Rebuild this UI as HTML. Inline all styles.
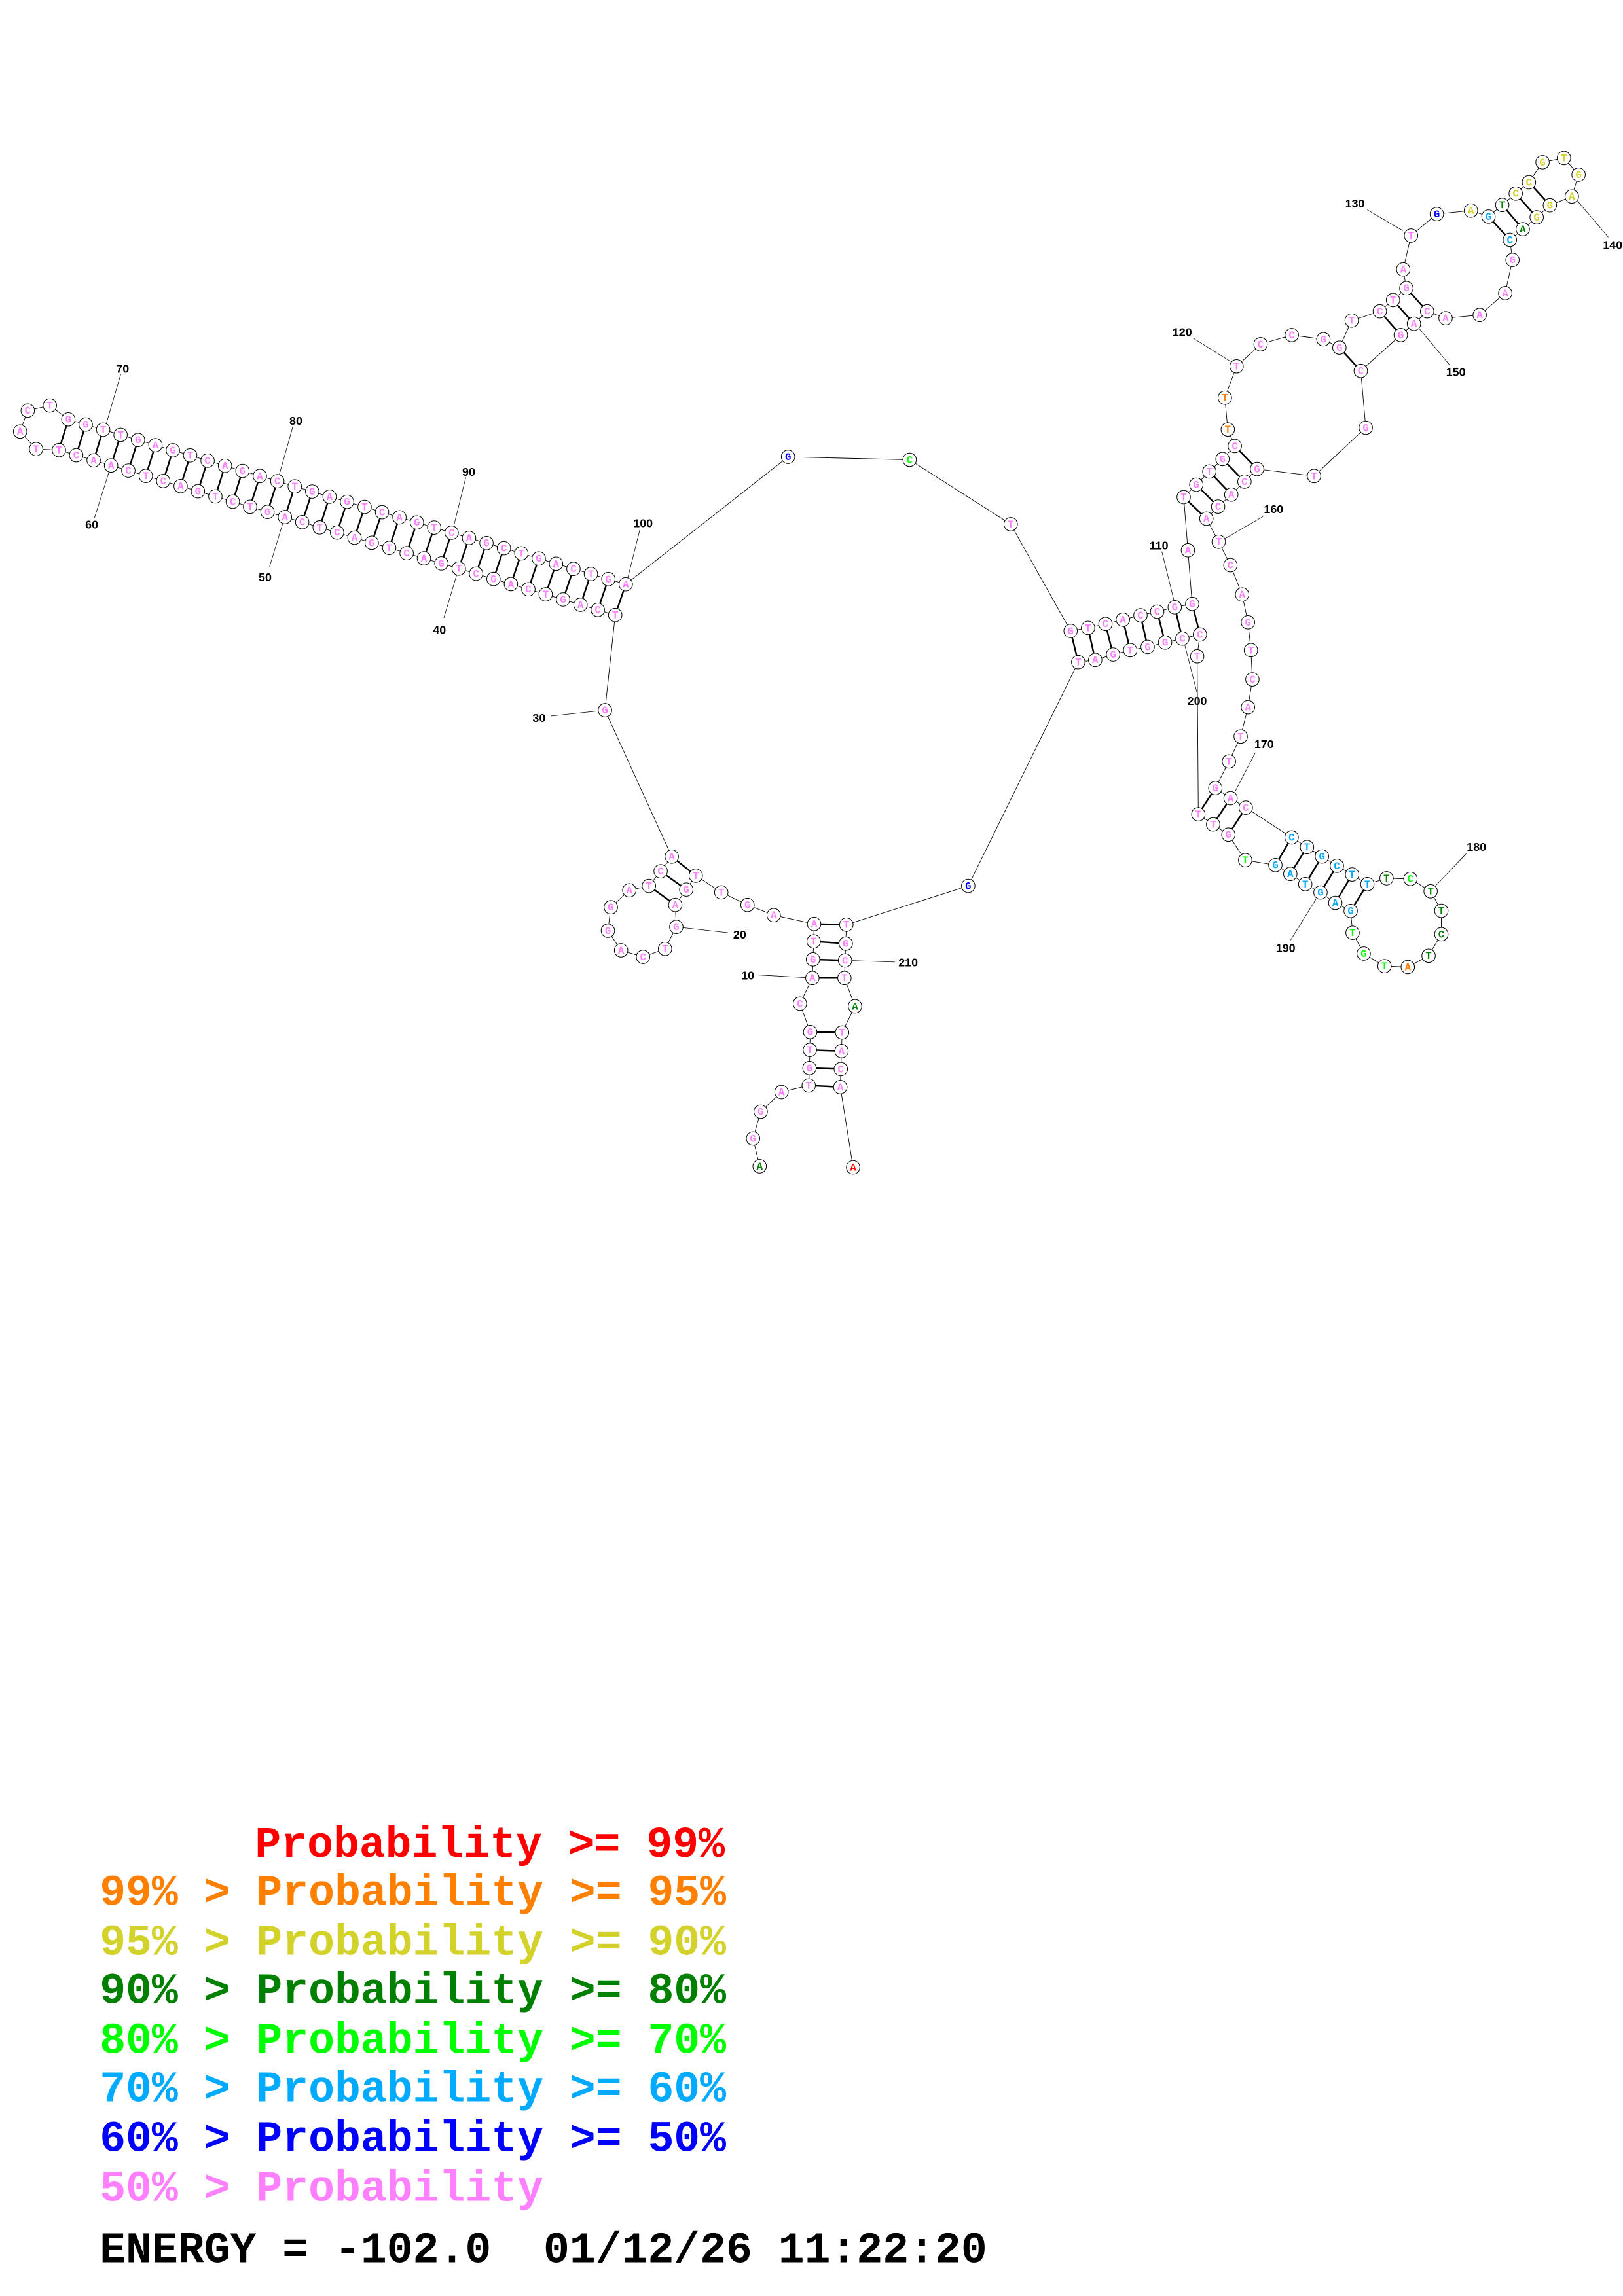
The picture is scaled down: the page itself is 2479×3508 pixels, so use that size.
<!DOCTYPE html>
<html><head><meta charset="utf-8"><style>
html,body{margin:0;padding:0;background:#fff}
svg{display:block}
.bb{fill:none;stroke:#000;stroke-width:0.4}
.pr line{stroke:#000;stroke-width:1.1}
.nd circle{fill:#fff;stroke:#000;stroke-width:0.45}
.nd text{font-family:"Liberation Mono",monospace;font-weight:bold;font-size:7px;text-anchor:middle;fill:#ff80ff}
.nd text.r{fill:#ff0000}.nd text.o{fill:#ff8000}.nd text.y{fill:#d2d22a}.nd text.dg{fill:#008000}.nd text.g{fill:#00ff00}.nd text.lb{fill:#00aaff}.nd text.b{fill:#0000ff}
.lab{font-family:"Liberation Sans",sans-serif;font-weight:bold;font-size:8px;text-anchor:middle;fill:#000}
.ll{stroke:#000;stroke-width:0.35}
.leg{font-family:"Liberation Mono",monospace;font-weight:bold;font-size:29.7px}
</style></head><body>
<svg width="2479" height="3508" viewBox="0 0 1108 1568" xmlns="http://www.w3.org/2000/svg">
<polyline class="bb" points="518.6,796.5 514.1,777.5 519.3,759.2 533.5,745.8 552.1,741.3 552.6,729.4 552.9,717 553.1,704.8 546.1,685.4 554.6,667.9 555,655.2 555.5,642.9 555.8,631 528.2,625 510.3,618 492.4,609.4 475,598 468.5,607.5 461,618 461.7,633 454,648 439,653.5 424,649 415,635.6 417,619.6 429.6,608 443,605 451,595 458.6,585 413,485 420,420 408.1,416.5 396.3,413 384.4,409.4 372.5,405.9 360.7,402.4 348.8,398.9 336.9,395.4 325,391.8 313.2,388.3 301.3,384.8 289.4,381.3 277.6,377.8 265.7,374.2 253.8,370.7 242,367.2 230.1,363.7 218.2,360.2 206.3,356.6 194.5,353.1 182.6,349.6 170.7,346.1 158.9,342.6 147,339 135.1,335.5 123.3,332 111.4,328.5 99.5,325 87.6,321.4 75.8,317.9 63.9,314.4 52,310.9 40.2,307.4 24.6,306.7 13.7,294.7 18.9,280.4 34,276.9 46.6,286.4 58.5,289.9 70.4,293.4 82.3,297 94.2,300.5 106.1,304 118,307.5 129.8,311 141.7,314.6 153.6,318.1 165.5,321.6 177.4,325.1 189.3,328.6 201.2,332.2 213.1,335.7 225,339.2 236.9,342.7 248.9,346.2 260.8,349.8 272.7,353.3 284.6,356.8 296.4,360.3 308.3,363.8 320.2,367.4 332.1,370.9 344,374.4 355.9,377.9 367.8,381.4 379.6,385 391.5,388.5 403.4,392 415.3,395.5 427.2,399 538,312 621,314 690,358 730.9,430.9 742.8,428.8 754.7,426.1 766.6,423.2 778.6,420.2 790,417.7 802,414.7 813.9,412.4 811,375.8 808.1,339.5 816.7,331 825.6,322 834.6,313.5 843,304.6 838.2,293.3 836.2,271.6 844.2,250.2 860.6,235.1 881.9,228.8 903.5,231.7 914.4,237.4 922.8,218.9 942,212.6 951,204.9 960.1,196.8 958,184 963.3,160.9 980.9,146.2 1004.2,143.8 1016.2,147.9 1025.6,140 1034.8,132.2 1043.8,124.5 1053.1,110.8 1067.7,107.9 1077.7,119.3 1073.1,134.2 1058.1,140.2 1049.1,148.4 1039.6,156.5 1030.8,163.8 1032.6,177.5 1027.6,200.2 1010.2,215.1 986.9,217.3 974.3,212.6 965.3,221.1 956.3,228.8 929,253.3 932.4,292.1 897.1,325.1 858.2,320.3 849.6,328.9 840.6,337.8 831.6,346 823.6,354.2 832,370 840,386 848,406 852,425 854,444 855,464 852,483 847,503 839,520 829.7,538.2 840.1,545.1 850.5,551.6 881.8,571.9 892.3,578.5 902.5,584.9 912.7,591.3 923.1,597.2 933.5,603.8 946.6,599.8 962.9,600.2 976.7,608.7 984,622 984,638 975.3,652.7 961.1,660.4 945.2,659.8 931,651.2 923.4,637 922.1,622.1 911.6,616.6 901.5,609.5 891.1,603.8 880.9,596.8 870.7,590.8 850.1,587.4 838.6,570 828.2,563 818.1,556.1 817.3,448.2 819.2,433.3 807.2,436.1 795.4,438.8 783.5,441.8 771.6,444 759.9,447 747.7,450.7 736.1,452.2 661,605 577.8,631.5 577.4,644.4 576.9,655.9 576.5,667.9 583.7,687.2 574.9,705.1 574.5,717.8 574,730.1 573.7,742.4 582.4,797.2"/>
<g class="pr">
<line x1="552.1" y1="741.3" x2="573.7" y2="742.4"/><line x1="552.6" y1="729.4" x2="574" y2="730.1"/><line x1="552.9" y1="717" x2="574.5" y2="717.8"/><line x1="553.1" y1="704.8" x2="574.9" y2="705.1"/>
<line x1="554.6" y1="667.9" x2="576.5" y2="667.9"/><line x1="555" y1="655.2" x2="576.9" y2="655.9"/><line x1="555.5" y1="642.9" x2="577.4" y2="644.4"/><line x1="555.8" y1="631" x2="577.8" y2="631.5"/>
<line x1="475" y1="598" x2="458.6" y2="585"/><line x1="468.5" y1="607.5" x2="451" y2="595"/><line x1="461" y1="618" x2="443" y2="605"/>
<line x1="420" y1="420" x2="427.2" y2="399"/><line x1="408.1" y1="416.5" x2="415.3" y2="395.5"/><line x1="396.3" y1="413" x2="403.4" y2="392"/><line x1="384.4" y1="409.4" x2="391.5" y2="388.5"/><line x1="372.5" y1="405.9" x2="379.6" y2="385"/><line x1="360.7" y1="402.4" x2="367.8" y2="381.4"/><line x1="348.8" y1="398.9" x2="355.9" y2="377.9"/><line x1="336.9" y1="395.4" x2="344" y2="374.4"/><line x1="325" y1="391.8" x2="332.1" y2="370.9"/><line x1="313.2" y1="388.3" x2="320.2" y2="367.4"/><line x1="301.3" y1="384.8" x2="308.3" y2="363.8"/><line x1="289.4" y1="381.3" x2="296.4" y2="360.3"/><line x1="277.6" y1="377.8" x2="284.6" y2="356.8"/><line x1="265.7" y1="374.2" x2="272.7" y2="353.3"/><line x1="253.8" y1="370.7" x2="260.8" y2="349.8"/><line x1="242" y1="367.2" x2="248.9" y2="346.2"/><line x1="230.1" y1="363.7" x2="236.9" y2="342.7"/><line x1="218.2" y1="360.2" x2="225" y2="339.2"/><line x1="206.3" y1="356.6" x2="213.1" y2="335.7"/><line x1="194.5" y1="353.1" x2="201.2" y2="332.2"/><line x1="182.6" y1="349.6" x2="189.3" y2="328.6"/><line x1="170.7" y1="346.1" x2="177.4" y2="325.1"/><line x1="158.9" y1="342.6" x2="165.5" y2="321.6"/><line x1="147" y1="339" x2="153.6" y2="318.1"/><line x1="135.1" y1="335.5" x2="141.7" y2="314.6"/><line x1="123.3" y1="332" x2="129.8" y2="311"/><line x1="111.4" y1="328.5" x2="118" y2="307.5"/><line x1="99.5" y1="325" x2="106.1" y2="304"/><line x1="87.6" y1="321.4" x2="94.2" y2="300.5"/><line x1="75.8" y1="317.9" x2="82.3" y2="297"/><line x1="63.9" y1="314.4" x2="70.4" y2="293.4"/><line x1="52" y1="310.9" x2="58.5" y2="289.9"/><line x1="40.2" y1="307.4" x2="46.6" y2="286.4"/>
<line x1="730.9" y1="430.9" x2="736.1" y2="452.2"/><line x1="742.8" y1="428.8" x2="747.7" y2="450.7"/><line x1="754.7" y1="426.1" x2="759.9" y2="447"/><line x1="766.6" y1="423.2" x2="771.6" y2="444"/><line x1="778.6" y1="420.2" x2="783.5" y2="441.8"/><line x1="790" y1="417.7" x2="795.4" y2="438.8"/><line x1="802" y1="414.7" x2="807.2" y2="436.1"/><line x1="813.9" y1="412.4" x2="819.2" y2="433.3"/>
<line x1="808.1" y1="339.5" x2="823.6" y2="354.2"/><line x1="816.7" y1="331" x2="831.6" y2="346"/><line x1="825.6" y1="322" x2="840.6" y2="337.8"/><line x1="834.6" y1="313.5" x2="849.6" y2="328.9"/><line x1="843" y1="304.6" x2="858.2" y2="320.3"/>
<line x1="914.4" y1="237.4" x2="929" y2="253.3"/><line x1="942" y1="212.6" x2="956.3" y2="228.8"/><line x1="951" y1="204.9" x2="965.3" y2="221.1"/><line x1="960.1" y1="196.8" x2="974.3" y2="212.6"/>
<line x1="1016.2" y1="147.9" x2="1030.8" y2="163.8"/><line x1="1025.6" y1="140" x2="1039.6" y2="156.5"/><line x1="1034.8" y1="132.2" x2="1049.1" y2="148.4"/><line x1="1043.8" y1="124.5" x2="1058.1" y2="140.2"/>
<line x1="829.7" y1="538.2" x2="818.1" y2="556.1"/><line x1="840.1" y1="545.1" x2="828.2" y2="563"/><line x1="850.5" y1="551.6" x2="838.6" y2="570"/>
<line x1="881.8" y1="571.9" x2="870.7" y2="590.8"/><line x1="892.3" y1="578.5" x2="880.9" y2="596.8"/><line x1="902.5" y1="584.9" x2="891.1" y2="603.8"/><line x1="912.7" y1="591.3" x2="901.5" y2="609.5"/><line x1="923.1" y1="597.2" x2="911.6" y2="616.6"/><line x1="933.5" y1="603.8" x2="922.1" y2="622.1"/>
</g>
<g>
<line class="ll" x1="517.4" y1="665.8" x2="550" y2="667.6"/><text class="lab" x="510.5" y="669">10</text>
<line class="ll" x1="466" y1="633.5" x2="497" y2="637"/><text class="lab" x="505" y="641">20</text>
<line class="ll" x1="376" y1="489" x2="408.5" y2="485.5"/><text class="lab" x="368" y="493">30</text>
<line class="ll" x1="303" y1="422" x2="311.8" y2="392.5"/><text class="lab" x="300" y="433">40</text>
<line class="ll" x1="184" y1="387" x2="193" y2="357.5"/><text class="lab" x="181" y="397">50</text>
<line class="ll" x1="64.4" y1="353.9" x2="74.5" y2="321.9"/><text class="lab" x="62.6" y="361">60</text>
<line class="ll" x1="82.4" y1="255.6" x2="72.7" y2="288.8"/><text class="lab" x="83.7" y="254.5">70</text>
<line class="ll" x1="200" y1="291" x2="190.7" y2="324"/><text class="lab" x="202" y="290">80</text>
<line class="ll" x1="318" y1="326" x2="309.7" y2="359.5"/><text class="lab" x="320" y="325">90</text>
<line class="ll" x1="437" y1="361" x2="428.6" y2="394.6"/><text class="lab" x="439" y="360">100</text>
<line class="ll" x1="793.2" y1="376.7" x2="801.4" y2="409.8"/><text class="lab" x="791.2" y="375.2">110</text>
<line class="ll" x1="814.7" y1="231" x2="840" y2="246.8"/><text class="lab" x="807.1" y="229.5">120</text>
<line class="ll" x1="933.4" y1="143.3" x2="957.7" y2="157.5"/><text class="lab" x="925" y="141.7">130</text>
<line class="ll" x1="1077" y1="137.3" x2="1098" y2="162"/><text class="lab" x="1101" y="170">140</text>
<line class="ll" x1="969" y1="224.5" x2="989.7" y2="249.3"/><text class="lab" x="993.9" y="256.8">150</text>
<line class="ll" x1="862.2" y1="352.8" x2="836" y2="368"/><text class="lab" x="869.5" y="350.4">160</text>
<line class="ll" x1="857" y1="514" x2="843" y2="541"/><text class="lab" x="863" y="511">170</text>
<line class="ll" x1="1001" y1="583" x2="980" y2="605"/><text class="lab" x="1008" y="581">180</text>
<line class="ll" x1="881.1" y1="642" x2="898.5" y2="613.9"/><text class="lab" x="877.7" y="650.2">190</text>
<line class="ll" x1="817.3" y1="473.5" x2="808.8" y2="440.3"/><text class="lab" x="817.3" y="481.3">200</text>
<line class="ll" x1="581.5" y1="656" x2="611" y2="657"/><text class="lab" x="620" y="660">210</text>
</g>
<g class="nd">
<circle cx="518.6" cy="796.5" r="4.6"/><text class="dg" x="518.6" y="798.7">A</text>
<circle cx="514.1" cy="777.5" r="4.6"/><text x="514.1" y="779.7">G</text>
<circle cx="519.3" cy="759.2" r="4.6"/><text x="519.3" y="761.4">G</text>
<circle cx="533.5" cy="745.8" r="4.6"/><text x="533.5" y="748">A</text>
<circle cx="552.1" cy="741.3" r="4.6"/><text x="552.1" y="743.5">T</text>
<circle cx="552.6" cy="729.4" r="4.6"/><text x="552.6" y="731.6">G</text>
<circle cx="552.9" cy="717" r="4.6"/><text x="552.9" y="719.2">T</text>
<circle cx="553.1" cy="704.8" r="4.6"/><text x="553.1" y="707">G</text>
<circle cx="546.1" cy="685.4" r="4.6"/><text x="546.1" y="687.6">C</text>
<circle cx="554.6" cy="667.9" r="4.6"/><text x="554.6" y="670.1">A</text>
<circle cx="555" cy="655.2" r="4.6"/><text x="555" y="657.4">G</text>
<circle cx="555.5" cy="642.9" r="4.6"/><text x="555.5" y="645.1">T</text>
<circle cx="555.8" cy="631" r="4.6"/><text x="555.8" y="633.2">A</text>
<circle cx="528.2" cy="625" r="4.6"/><text x="528.2" y="627.2">A</text>
<circle cx="510.3" cy="618" r="4.6"/><text x="510.3" y="620.2">G</text>
<circle cx="492.4" cy="609.4" r="4.6"/><text x="492.4" y="611.6">T</text>
<circle cx="475" cy="598" r="4.6"/><text x="475" y="600.2">T</text>
<circle cx="468.5" cy="607.5" r="4.6"/><text x="468.5" y="609.7">G</text>
<circle cx="461" cy="618" r="4.6"/><text x="461" y="620.2">A</text>
<circle cx="461.7" cy="633" r="4.6"/><text x="461.7" y="635.2">G</text>
<circle cx="454" cy="648" r="4.6"/><text x="454" y="650.2">T</text>
<circle cx="439" cy="653.5" r="4.6"/><text x="439" y="655.7">C</text>
<circle cx="424" cy="649" r="4.6"/><text x="424" y="651.2">A</text>
<circle cx="415" cy="635.6" r="4.6"/><text x="415" y="637.8">G</text>
<circle cx="417" cy="619.6" r="4.6"/><text x="417" y="621.8">G</text>
<circle cx="429.6" cy="608" r="4.6"/><text x="429.6" y="610.2">A</text>
<circle cx="443" cy="605" r="4.6"/><text x="443" y="607.2">T</text>
<circle cx="451" cy="595" r="4.6"/><text x="451" y="597.2">C</text>
<circle cx="458.6" cy="585" r="4.6"/><text x="458.6" y="587.2">A</text>
<circle cx="413" cy="485" r="4.6"/><text x="413" y="487.2">G</text>
<circle cx="420" cy="420" r="4.6"/><text x="420" y="422.2">T</text>
<circle cx="408.1" cy="416.5" r="4.6"/><text x="408.1" y="418.7">C</text>
<circle cx="396.3" cy="413" r="4.6"/><text x="396.3" y="415.2">A</text>
<circle cx="384.4" cy="409.4" r="4.6"/><text x="384.4" y="411.6">G</text>
<circle cx="372.5" cy="405.9" r="4.6"/><text x="372.5" y="408.1">T</text>
<circle cx="360.7" cy="402.4" r="4.6"/><text x="360.7" y="404.6">C</text>
<circle cx="348.8" cy="398.9" r="4.6"/><text x="348.8" y="401.1">A</text>
<circle cx="336.9" cy="395.4" r="4.6"/><text x="336.9" y="397.6">G</text>
<circle cx="325" cy="391.8" r="4.6"/><text x="325" y="394">C</text>
<circle cx="313.2" cy="388.3" r="4.6"/><text x="313.2" y="390.5">T</text>
<circle cx="301.3" cy="384.8" r="4.6"/><text x="301.3" y="387">G</text>
<circle cx="289.4" cy="381.3" r="4.6"/><text x="289.4" y="383.5">A</text>
<circle cx="277.6" cy="377.8" r="4.6"/><text x="277.6" y="380">C</text>
<circle cx="265.7" cy="374.2" r="4.6"/><text x="265.7" y="376.4">T</text>
<circle cx="253.8" cy="370.7" r="4.6"/><text x="253.8" y="372.9">G</text>
<circle cx="242" cy="367.2" r="4.6"/><text x="242" y="369.4">A</text>
<circle cx="230.1" cy="363.7" r="4.6"/><text x="230.1" y="365.9">C</text>
<circle cx="218.2" cy="360.2" r="4.6"/><text x="218.2" y="362.4">T</text>
<circle cx="206.3" cy="356.6" r="4.6"/><text x="206.3" y="358.8">C</text>
<circle cx="194.5" cy="353.1" r="4.6"/><text x="194.5" y="355.3">A</text>
<circle cx="182.6" cy="349.6" r="4.6"/><text x="182.6" y="351.8">G</text>
<circle cx="170.7" cy="346.1" r="4.6"/><text x="170.7" y="348.3">T</text>
<circle cx="158.9" cy="342.6" r="4.6"/><text x="158.9" y="344.8">C</text>
<circle cx="147" cy="339" r="4.6"/><text x="147" y="341.2">T</text>
<circle cx="135.1" cy="335.5" r="4.6"/><text x="135.1" y="337.7">G</text>
<circle cx="123.3" cy="332" r="4.6"/><text x="123.3" y="334.2">A</text>
<circle cx="111.4" cy="328.5" r="4.6"/><text x="111.4" y="330.7">C</text>
<circle cx="99.5" cy="325" r="4.6"/><text x="99.5" y="327.2">T</text>
<circle cx="87.6" cy="321.4" r="4.6"/><text x="87.6" y="323.6">C</text>
<circle cx="75.8" cy="317.9" r="4.6"/><text x="75.8" y="320.1">A</text>
<circle cx="63.9" cy="314.4" r="4.6"/><text x="63.9" y="316.6">A</text>
<circle cx="52" cy="310.9" r="4.6"/><text x="52" y="313.1">C</text>
<circle cx="40.2" cy="307.4" r="4.6"/><text x="40.2" y="309.6">T</text>
<circle cx="24.6" cy="306.7" r="4.6"/><text x="24.6" y="308.9">T</text>
<circle cx="13.7" cy="294.7" r="4.6"/><text x="13.7" y="296.9">A</text>
<circle cx="18.9" cy="280.4" r="4.6"/><text x="18.9" y="282.6">C</text>
<circle cx="34" cy="276.9" r="4.6"/><text x="34" y="279.1">T</text>
<circle cx="46.6" cy="286.4" r="4.6"/><text x="46.6" y="288.6">G</text>
<circle cx="58.5" cy="289.9" r="4.6"/><text x="58.5" y="292.1">G</text>
<circle cx="70.4" cy="293.4" r="4.6"/><text x="70.4" y="295.6">T</text>
<circle cx="82.3" cy="297" r="4.6"/><text x="82.3" y="299.2">T</text>
<circle cx="94.2" cy="300.5" r="4.6"/><text x="94.2" y="302.7">G</text>
<circle cx="106.1" cy="304" r="4.6"/><text x="106.1" y="306.2">A</text>
<circle cx="118" cy="307.5" r="4.6"/><text x="118" y="309.7">G</text>
<circle cx="129.8" cy="311" r="4.6"/><text x="129.8" y="313.2">T</text>
<circle cx="141.7" cy="314.6" r="4.6"/><text x="141.7" y="316.8">C</text>
<circle cx="153.6" cy="318.1" r="4.6"/><text x="153.6" y="320.3">A</text>
<circle cx="165.5" cy="321.6" r="4.6"/><text x="165.5" y="323.8">G</text>
<circle cx="177.4" cy="325.1" r="4.6"/><text x="177.4" y="327.3">A</text>
<circle cx="189.3" cy="328.6" r="4.6"/><text x="189.3" y="330.8">C</text>
<circle cx="201.2" cy="332.2" r="4.6"/><text x="201.2" y="334.4">T</text>
<circle cx="213.1" cy="335.7" r="4.6"/><text x="213.1" y="337.9">G</text>
<circle cx="225" cy="339.2" r="4.6"/><text x="225" y="341.4">A</text>
<circle cx="236.9" cy="342.7" r="4.6"/><text x="236.9" y="344.9">G</text>
<circle cx="248.9" cy="346.2" r="4.6"/><text x="248.9" y="348.4">T</text>
<circle cx="260.8" cy="349.8" r="4.6"/><text x="260.8" y="352">C</text>
<circle cx="272.7" cy="353.3" r="4.6"/><text x="272.7" y="355.5">A</text>
<circle cx="284.6" cy="356.8" r="4.6"/><text x="284.6" y="359">G</text>
<circle cx="296.4" cy="360.3" r="4.6"/><text x="296.4" y="362.5">T</text>
<circle cx="308.3" cy="363.8" r="4.6"/><text x="308.3" y="366">C</text>
<circle cx="320.2" cy="367.4" r="4.6"/><text x="320.2" y="369.6">A</text>
<circle cx="332.1" cy="370.9" r="4.6"/><text x="332.1" y="373.1">G</text>
<circle cx="344" cy="374.4" r="4.6"/><text x="344" y="376.6">C</text>
<circle cx="355.9" cy="377.9" r="4.6"/><text x="355.9" y="380.1">T</text>
<circle cx="367.8" cy="381.4" r="4.6"/><text x="367.8" y="383.6">G</text>
<circle cx="379.6" cy="385" r="4.6"/><text x="379.6" y="387.2">A</text>
<circle cx="391.5" cy="388.5" r="4.6"/><text x="391.5" y="390.7">C</text>
<circle cx="403.4" cy="392" r="4.6"/><text x="403.4" y="394.2">T</text>
<circle cx="415.3" cy="395.5" r="4.6"/><text x="415.3" y="397.7">G</text>
<circle cx="427.2" cy="399" r="4.6"/><text x="427.2" y="401.2">A</text>
<circle cx="538" cy="312" r="4.6"/><text class="b" x="538" y="314.2">G</text>
<circle cx="621" cy="314" r="4.6"/><text class="g" x="621" y="316.2">C</text>
<circle cx="690" cy="358" r="4.6"/><text x="690" y="360.2">T</text>
<circle cx="730.9" cy="430.9" r="4.6"/><text x="730.9" y="433.1">G</text>
<circle cx="742.8" cy="428.8" r="4.6"/><text x="742.8" y="431">T</text>
<circle cx="754.7" cy="426.1" r="4.6"/><text x="754.7" y="428.3">C</text>
<circle cx="766.6" cy="423.2" r="4.6"/><text x="766.6" y="425.4">A</text>
<circle cx="778.6" cy="420.2" r="4.6"/><text x="778.6" y="422.4">C</text>
<circle cx="790" cy="417.7" r="4.6"/><text x="790" y="419.9">C</text>
<circle cx="802" cy="414.7" r="4.6"/><text x="802" y="416.9">G</text>
<circle cx="813.9" cy="412.4" r="4.6"/><text x="813.9" y="414.6">G</text>
<circle cx="811" cy="375.8" r="4.6"/><text x="811" y="378">A</text>
<circle cx="808.1" cy="339.5" r="4.6"/><text x="808.1" y="341.7">T</text>
<circle cx="816.7" cy="331" r="4.6"/><text x="816.7" y="333.2">G</text>
<circle cx="825.6" cy="322" r="4.6"/><text x="825.6" y="324.2">T</text>
<circle cx="834.6" cy="313.5" r="4.6"/><text x="834.6" y="315.7">G</text>
<circle cx="843" cy="304.6" r="4.6"/><text x="843" y="306.8">C</text>
<circle cx="838.2" cy="293.3" r="4.6"/><text class="o" x="838.2" y="295.5">T</text>
<circle cx="836.2" cy="271.6" r="4.6"/><text class="o" x="836.2" y="273.8">T</text>
<circle cx="844.2" cy="250.2" r="4.6"/><text x="844.2" y="252.4">T</text>
<circle cx="860.6" cy="235.1" r="4.6"/><text x="860.6" y="237.3">C</text>
<circle cx="881.9" cy="228.8" r="4.6"/><text x="881.9" y="231">C</text>
<circle cx="903.5" cy="231.7" r="4.6"/><text x="903.5" y="233.9">G</text>
<circle cx="914.4" cy="237.4" r="4.6"/><text x="914.4" y="239.6">G</text>
<circle cx="922.8" cy="218.9" r="4.6"/><text x="922.8" y="221.1">T</text>
<circle cx="942" cy="212.6" r="4.6"/><text x="942" y="214.8">C</text>
<circle cx="951" cy="204.9" r="4.6"/><text x="951" y="207.1">T</text>
<circle cx="960.1" cy="196.8" r="4.6"/><text x="960.1" y="199">G</text>
<circle cx="958" cy="184" r="4.6"/><text x="958" y="186.2">A</text>
<circle cx="963.3" cy="160.9" r="4.6"/><text x="963.3" y="163.1">T</text>
<circle cx="980.9" cy="146.2" r="4.6"/><text class="b" x="980.9" y="148.4">G</text>
<circle cx="1004.2" cy="143.8" r="4.6"/><text class="y" x="1004.2" y="146">A</text>
<circle cx="1016.2" cy="147.9" r="4.6"/><text class="lb" x="1016.2" y="150.1">G</text>
<circle cx="1025.6" cy="140" r="4.6"/><text class="dg" x="1025.6" y="142.2">T</text>
<circle cx="1034.8" cy="132.2" r="4.6"/><text class="y" x="1034.8" y="134.4">C</text>
<circle cx="1043.8" cy="124.5" r="4.6"/><text class="y" x="1043.8" y="126.7">C</text>
<circle cx="1053.1" cy="110.8" r="4.6"/><text class="y" x="1053.1" y="113">G</text>
<circle cx="1067.7" cy="107.9" r="4.6"/><text class="y" x="1067.7" y="110.1">T</text>
<circle cx="1077.7" cy="119.3" r="4.6"/><text class="y" x="1077.7" y="121.5">G</text>
<circle cx="1073.1" cy="134.2" r="4.6"/><text class="y" x="1073.1" y="136.4">A</text>
<circle cx="1058.1" cy="140.2" r="4.6"/><text class="y" x="1058.1" y="142.4">G</text>
<circle cx="1049.1" cy="148.4" r="4.6"/><text class="y" x="1049.1" y="150.6">G</text>
<circle cx="1039.6" cy="156.5" r="4.6"/><text class="dg" x="1039.6" y="158.7">A</text>
<circle cx="1030.8" cy="163.8" r="4.6"/><text class="lb" x="1030.8" y="166">C</text>
<circle cx="1032.6" cy="177.5" r="4.6"/><text x="1032.6" y="179.7">G</text>
<circle cx="1027.6" cy="200.2" r="4.6"/><text x="1027.6" y="202.4">A</text>
<circle cx="1010.2" cy="215.1" r="4.6"/><text x="1010.2" y="217.3">A</text>
<circle cx="986.9" cy="217.3" r="4.6"/><text x="986.9" y="219.5">A</text>
<circle cx="974.3" cy="212.6" r="4.6"/><text x="974.3" y="214.8">C</text>
<circle cx="965.3" cy="221.1" r="4.6"/><text x="965.3" y="223.3">A</text>
<circle cx="956.3" cy="228.8" r="4.6"/><text x="956.3" y="231">G</text>
<circle cx="929" cy="253.3" r="4.6"/><text x="929" y="255.5">C</text>
<circle cx="932.4" cy="292.1" r="4.6"/><text x="932.4" y="294.3">G</text>
<circle cx="897.1" cy="325.1" r="4.6"/><text x="897.1" y="327.3">T</text>
<circle cx="858.2" cy="320.3" r="4.6"/><text x="858.2" y="322.5">G</text>
<circle cx="849.6" cy="328.9" r="4.6"/><text x="849.6" y="331.1">C</text>
<circle cx="840.6" cy="337.8" r="4.6"/><text x="840.6" y="340">A</text>
<circle cx="831.6" cy="346" r="4.6"/><text x="831.6" y="348.2">C</text>
<circle cx="823.6" cy="354.2" r="4.6"/><text x="823.6" y="356.4">A</text>
<circle cx="832" cy="370" r="4.6"/><text x="832" y="372.2">T</text>
<circle cx="840" cy="386" r="4.6"/><text x="840" y="388.2">C</text>
<circle cx="848" cy="406" r="4.6"/><text x="848" y="408.2">A</text>
<circle cx="852" cy="425" r="4.6"/><text x="852" y="427.2">G</text>
<circle cx="854" cy="444" r="4.6"/><text x="854" y="446.2">T</text>
<circle cx="855" cy="464" r="4.6"/><text x="855" y="466.2">C</text>
<circle cx="852" cy="483" r="4.6"/><text x="852" y="485.2">A</text>
<circle cx="847" cy="503" r="4.6"/><text x="847" y="505.2">T</text>
<circle cx="839" cy="520" r="4.6"/><text x="839" y="522.2">T</text>
<circle cx="829.7" cy="538.2" r="4.6"/><text x="829.7" y="540.4">G</text>
<circle cx="840.1" cy="545.1" r="4.6"/><text x="840.1" y="547.3">A</text>
<circle cx="850.5" cy="551.6" r="4.6"/><text x="850.5" y="553.8">C</text>
<circle cx="881.8" cy="571.9" r="4.6"/><text class="lb" x="881.8" y="574.1">C</text>
<circle cx="892.3" cy="578.5" r="4.6"/><text class="lb" x="892.3" y="580.7">T</text>
<circle cx="902.5" cy="584.9" r="4.6"/><text class="lb" x="902.5" y="587.1">G</text>
<circle cx="912.7" cy="591.3" r="4.6"/><text class="lb" x="912.7" y="593.5">C</text>
<circle cx="923.1" cy="597.2" r="4.6"/><text class="lb" x="923.1" y="599.4">T</text>
<circle cx="933.5" cy="603.8" r="4.6"/><text class="lb" x="933.5" y="606">T</text>
<circle cx="946.6" cy="599.8" r="4.6"/><text class="dg" x="946.6" y="602">T</text>
<circle cx="962.9" cy="600.2" r="4.6"/><text class="g" x="962.9" y="602.4">C</text>
<circle cx="976.7" cy="608.7" r="4.6"/><text class="dg" x="976.7" y="610.9">T</text>
<circle cx="984" cy="622" r="4.6"/><text class="dg" x="984" y="624.2">T</text>
<circle cx="984" cy="638" r="4.6"/><text class="dg" x="984" y="640.2">C</text>
<circle cx="975.3" cy="652.7" r="4.6"/><text class="dg" x="975.3" y="654.9">T</text>
<circle cx="961.1" cy="660.4" r="4.6"/><text class="o" x="961.1" y="662.6">A</text>
<circle cx="945.2" cy="659.8" r="4.6"/><text class="g" x="945.2" y="662">T</text>
<circle cx="931" cy="651.2" r="4.6"/><text class="g" x="931" y="653.4">G</text>
<circle cx="923.4" cy="637" r="4.6"/><text class="g" x="923.4" y="639.2">T</text>
<circle cx="922.1" cy="622.1" r="4.6"/><text class="lb" x="922.1" y="624.3">G</text>
<circle cx="911.6" cy="616.6" r="4.6"/><text class="lb" x="911.6" y="618.8">A</text>
<circle cx="901.5" cy="609.5" r="4.6"/><text class="lb" x="901.5" y="611.7">G</text>
<circle cx="891.1" cy="603.8" r="4.6"/><text class="lb" x="891.1" y="606">T</text>
<circle cx="880.9" cy="596.8" r="4.6"/><text class="lb" x="880.9" y="599">A</text>
<circle cx="870.7" cy="590.8" r="4.6"/><text class="lb" x="870.7" y="593">G</text>
<circle cx="850.1" cy="587.4" r="4.6"/><text class="g" x="850.1" y="589.6">T</text>
<circle cx="838.6" cy="570" r="4.6"/><text x="838.6" y="572.2">G</text>
<circle cx="828.2" cy="563" r="4.6"/><text x="828.2" y="565.2">T</text>
<circle cx="818.1" cy="556.1" r="4.6"/><text x="818.1" y="558.3">T</text>
<circle cx="817.3" cy="448.2" r="4.6"/><text x="817.3" y="450.4">T</text>
<circle cx="819.2" cy="433.3" r="4.6"/><text x="819.2" y="435.5">C</text>
<circle cx="807.2" cy="436.1" r="4.6"/><text x="807.2" y="438.3">C</text>
<circle cx="795.4" cy="438.8" r="4.6"/><text x="795.4" y="441">G</text>
<circle cx="783.5" cy="441.8" r="4.6"/><text x="783.5" y="444">G</text>
<circle cx="771.6" cy="444" r="4.6"/><text x="771.6" y="446.2">T</text>
<circle cx="759.9" cy="447" r="4.6"/><text x="759.9" y="449.2">G</text>
<circle cx="747.7" cy="450.7" r="4.6"/><text x="747.7" y="452.9">A</text>
<circle cx="736.1" cy="452.2" r="4.6"/><text x="736.1" y="454.4">T</text>
<circle cx="661" cy="605" r="4.6"/><text class="b" x="661" y="607.2">G</text>
<circle cx="577.8" cy="631.5" r="4.6"/><text x="577.8" y="633.7">T</text>
<circle cx="577.4" cy="644.4" r="4.6"/><text x="577.4" y="646.6">G</text>
<circle cx="576.9" cy="655.9" r="4.6"/><text x="576.9" y="658.1">C</text>
<circle cx="576.5" cy="667.9" r="4.6"/><text x="576.5" y="670.1">T</text>
<circle cx="583.7" cy="687.2" r="4.6"/><text class="dg" x="583.7" y="689.4">A</text>
<circle cx="574.9" cy="705.1" r="4.6"/><text x="574.9" y="707.3">T</text>
<circle cx="574.5" cy="717.8" r="4.6"/><text x="574.5" y="720">A</text>
<circle cx="574" cy="730.1" r="4.6"/><text x="574" y="732.3">C</text>
<circle cx="573.7" cy="742.4" r="4.6"/><text x="573.7" y="744.6">A</text>
<circle cx="582.4" cy="797.2" r="4.6"/><text class="r" x="582.4" y="799.4">A</text>
</g>
<g class="leg">
<text x="174" y="1268" fill="#ff0000">Probability &gt;= 99%</text>
<text x="68" y="1301" fill="#ff8000">99% &gt; Probability &gt;= 95%</text>
<text x="68" y="1335" fill="#d2d22a">95% &gt; Probability &gt;= 90%</text>
<text x="68" y="1368" fill="#008000">90% &gt; Probability &gt;= 80%</text>
<text x="68" y="1402" fill="#00ff00">80% &gt; Probability &gt;= 70%</text>
<text x="68" y="1435" fill="#00aaff">70% &gt; Probability &gt;= 60%</text>
<text x="68" y="1469" fill="#0000ff">60% &gt; Probability &gt;= 50%</text>
<text x="68" y="1503" fill="#ff80ff">50% &gt; Probability</text>
<text x="68" y="1545" fill="#000" xml:space="preserve">ENERGY = -102.0  01/12/26 11:22:20</text>
</g>
</svg>
</body></html>
